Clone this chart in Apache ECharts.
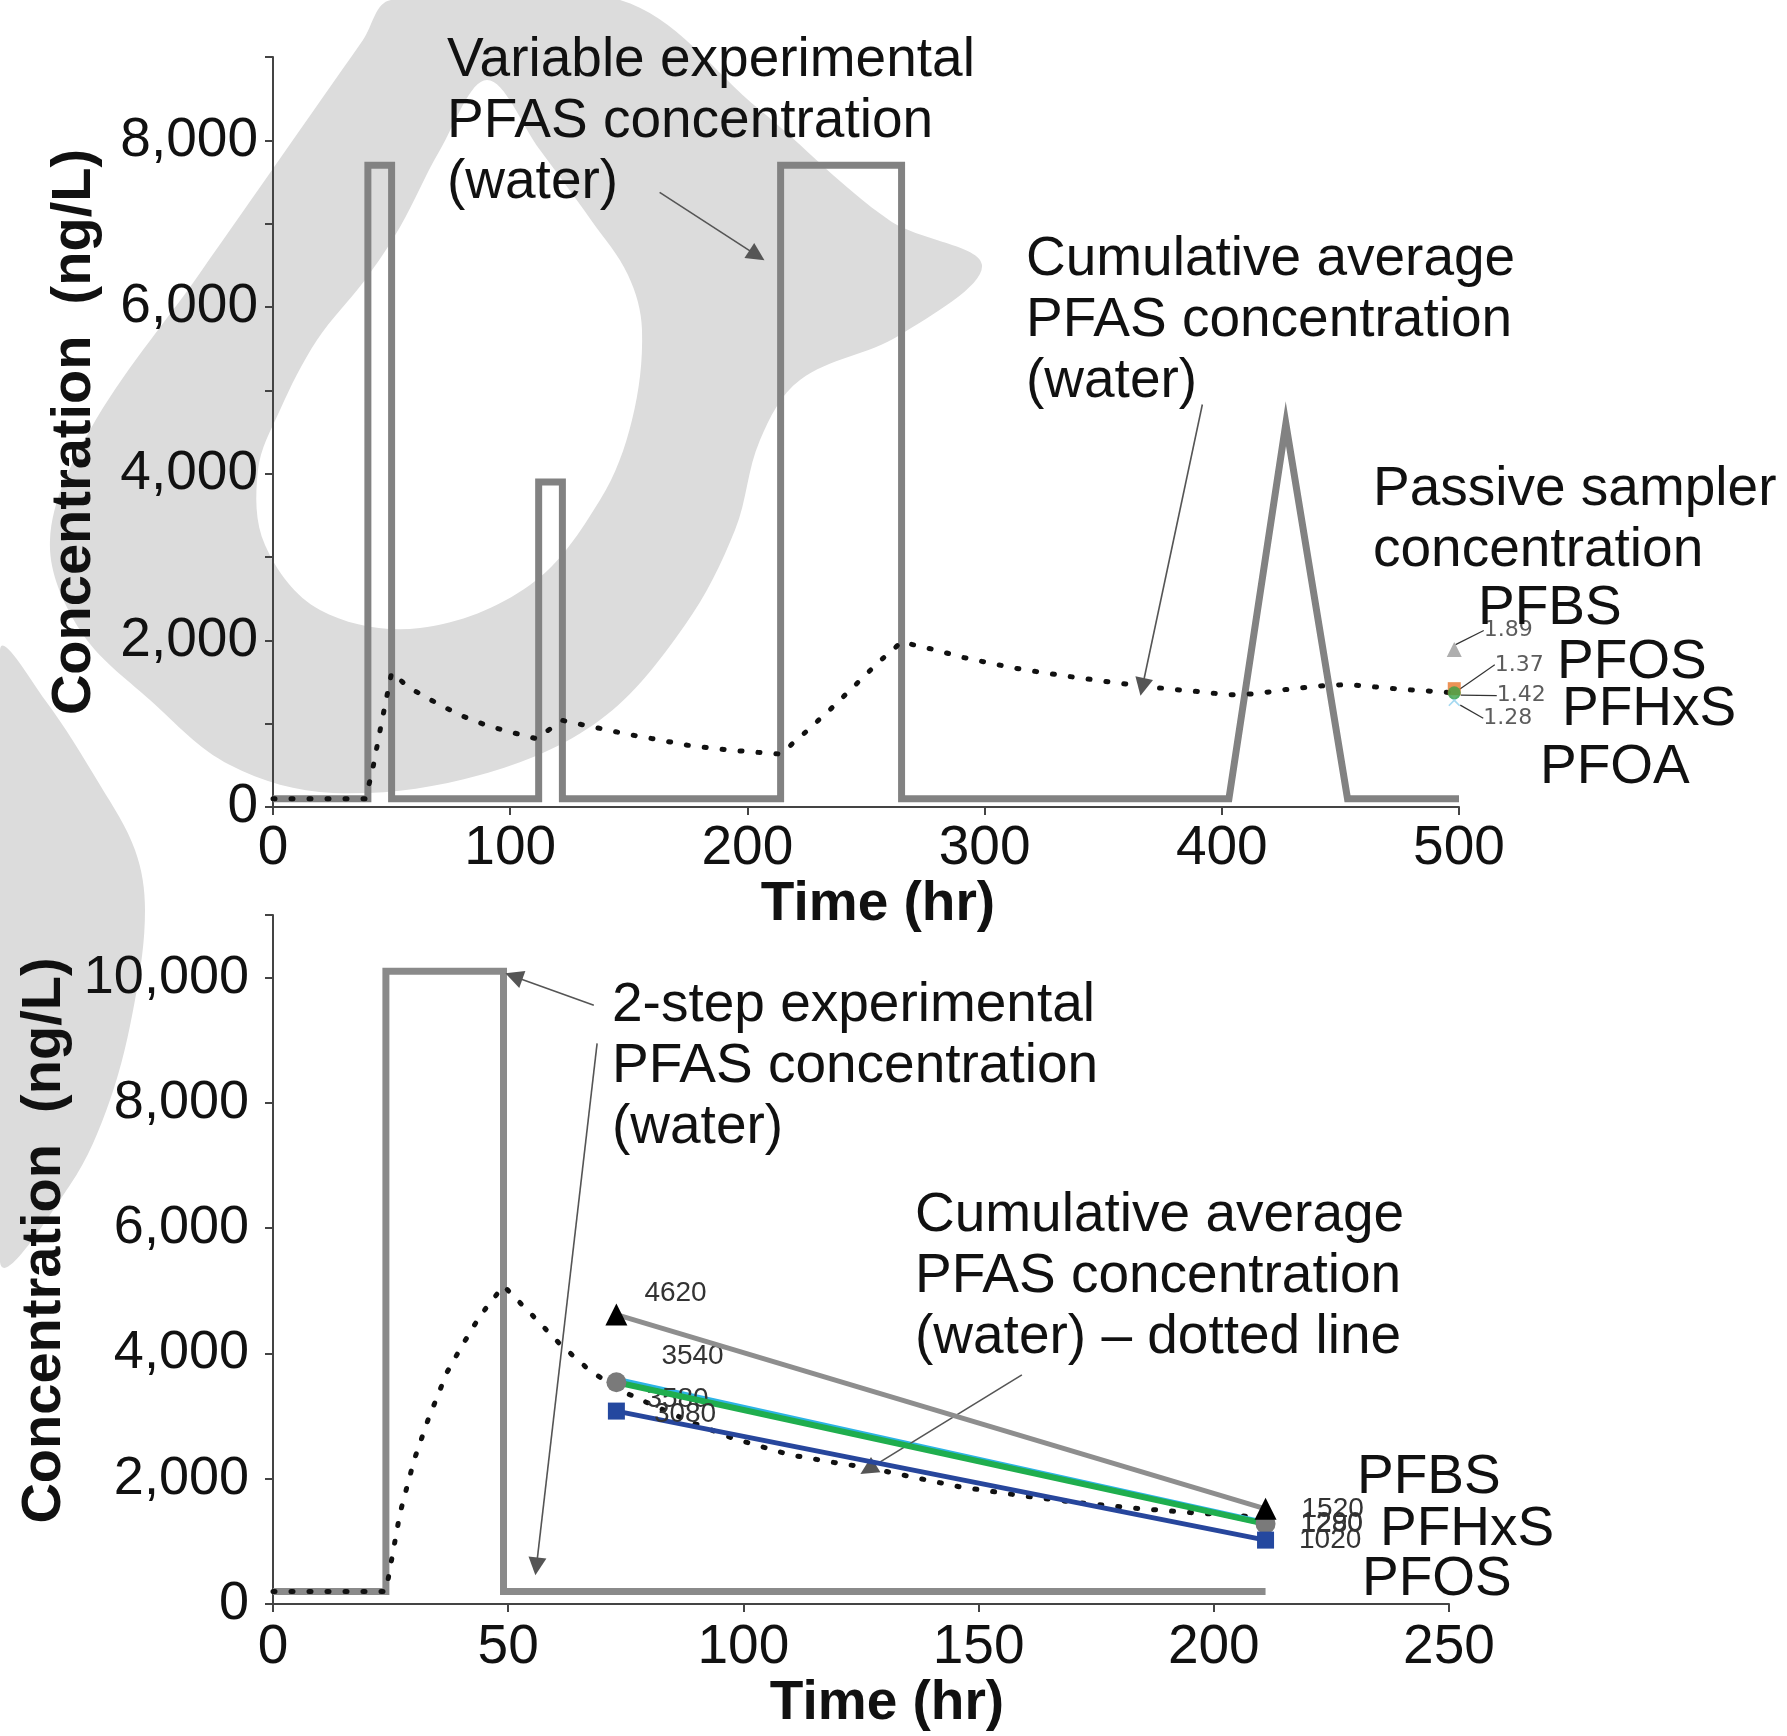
<!DOCTYPE html>
<html><head><meta charset="utf-8">
<script src="https://cdn.jsdelivr.net/npm/echarts@6/dist/echarts.min.js"></script>
<style>html,body{margin:0;padding:0;background:#fff}#c{width:1787px;height:1736px}</style>
</head><body><div id="c"></div>
<script>
// ---------- DATA (top panel) ----------
const topStepTime = [0,40,40,50,50,112,112,122,122,214,214,265,265,403,427,453,500];
const topStepConc = [100,100,7700,7700,100,100,3900,3900,100,100,7700,7700,100,100,4600,100,100];
const topAvgTime = [0,10,20,30,39,42,45,48,50,55,60,70,80,90,100,111,114,118,122,130,140,150,160,175,190,200,214,225,236,245,255,265,280,290,300,312,325,336,350,367,380,392,403,415,427,440,453,465,477,488,498];
const topAvgConc = [100,100,100,100,100,450,900,1330,1610,1490,1390,1230,1090,980,900,820,880,960,1040,990,930,870,820,740,690,665,635,910,1200,1450,1730,1980,1880,1800,1740,1670,1610,1565,1510,1450,1410,1380,1345,1360,1410,1450,1470,1440,1410,1390,1370];
const topSamplerNames = ['PFOA','PFHxS','PFOS','PFBS'];
const topSamplerTime = 498;
const topSamplerConc = [1280,1420,1370,1890];
const topSamplerLabels = ['1.28','1.42','1.37','1.89'];
const topXTicks = [0,100,200,300,400,500];
const topYTicks = [0,2000,4000,6000,8000];

// ---------- DATA (bottom panel) ----------
const botStepTime = [0,24,24,49,49,211];
const botStepConc = [200,200,10100,10100,200,200];
const botAvgTime = [0,10,20,24,27,30,33,37,40,44,49,55,61,67,73,80,90,98,110,120,127,137,146,160,171,183,195,205,211];
const botAvgConc = [200,200,200,200,1450,2300,2950,3700,4100,4600,5080,4620,4150,3750,3440,3200,2870,2640,2380,2250,2170,2010,1870,1720,1620,1530,1460,1410,1380];
const botSamplerTime = [73,211];
const pfbsConc = [4620,1520];
const pfoaConc = [3580,1290];
const pfhxsConc = [3540,1280];
const pfosConc = [3080,1020];
const botXTicks = [0,50,100,150,200,250];
const botYTicks = [0,2000,4000,6000,8000,10000];

// ---------- helpers ----------
const FONT = '"Liberation Sans", Arial, Helvetica, sans-serif';
const zip = (a,b) => a.map((x,i)=>[x,b[i]]);
const fmt = v => v.toLocaleString('en-US');

const chart = echarts.init(document.getElementById('c'), null, {renderer:'canvas'});

const axisCommon = {
  type:'value',
  axisLine:{show:true, lineStyle:{color:'#444', width:2}},
  axisTick:{show:true, length:8, lineStyle:{color:'#444', width:2}},
  splitLine:{show:false}
};

const dotted = {color:'#111', width:5, type:[2,16], cap:'round'};

function arrowMark(pairs){
  return {
    silent:true, animation:false,
    symbol:['none','triangle'], symbolSize:18,
    label:{show:false},
    lineStyle:{color:'#555', width:1.6, type:'solid'},
    itemStyle:{color:'#555'},
    emphasis:{disabled:true},
    data: pairs.map(p=>[{coord:p[0]},{coord:p[1]}])
  };
}

// top passive-sampler marker styling
const topSym = ['path://M1,0 L5,4 L9,0 L10,1 L6,5 L10,9 L9,10 L5,6 L1,10 L0,9 L4,5 L0,1 Z','rect','circle','triangle'];
const topSymColor = ['#8fd0ee','#e7772c','#3ba043','#9a9a9a'];
const topSymSize = [12,13,13,15];
const topLabelShift = [[15,18],[28,7],[26,-28],[14,-19]];

const botLabelStyle = {show:true, color:'#333', fontSize:28, fontFamily:FONT, position:'right'};
function botLine(name, conc, color, width, symbol, symColor, symSize, offsets, z){
  return {
    name, type:'line', xAxisIndex:1, yAxisIndex:1, z,
    data: conc.map((v,i)=>({value:[botSamplerTime[i], v], label:Object.assign({}, botLabelStyle, {offset:offsets[i]})})),
    lineStyle:{color, width},
    symbol, symbolSize:symSize, showSymbol:true,
    itemStyle:{color:symColor},
    label:Object.assign({}, botLabelStyle, {formatter:p=>String(p.value[1])}),
    emphasis:{disabled:true}
  };
}

function txt(x, y, text){
  return {type:'text', x, y, z:50, silent:true,
    style:{text, fontSize:55, fontFamily:FONT, fill:'#111', lineHeight:61, verticalAlign:'top', align:'left'}};
}
function shape(points, fill){
  return {type:'polygon', z:-100, silent:true, shape:{points, smooth:0.35}, style:{fill}};
}
const WM = '#dcdcdc';

const option = {
  backgroundColor:'#fff',
  animation:false,
  grid:[
    {left:273, top:57, width:1186, height:750, outerBoundsMode:'none', containLabel:false},
    {left:273, top:915, width:1176, height:689, outerBoundsMode:'none', containLabel:false}
  ],
  xAxis:[
    Object.assign({}, axisCommon, {gridIndex:0, min:topXTicks[0], max:topXTicks[topXTicks.length-1], interval:100,
      axisLabel:{fontSize:55, color:'#111', fontFamily:FONT, margin:14},
      name:'Time (hr)', nameLocation:'middle', nameGap:68,
      nameTextStyle:{fontSize:55, fontWeight:'bold', color:'#111', fontFamily:FONT, padding:[0,0,0,24]}}),
    Object.assign({}, axisCommon, {gridIndex:1, min:botXTicks[0], max:botXTicks[botXTicks.length-1], interval:50,
      axisLabel:{fontSize:55, color:'#111', fontFamily:FONT, margin:16},
      name:'Time (hr)', nameLocation:'middle', nameGap:72,
      nameTextStyle:{fontSize:55, fontWeight:'bold', color:'#111', fontFamily:FONT, padding:[0,0,0,52]}})
  ],
  yAxis:[
    Object.assign({}, axisCommon, {gridIndex:0, min:0, max:9000, interval:1000,
      axisLabel:{fontSize:55, color:'#111', fontFamily:FONT, margin:15,
        formatter:v=> topYTicks.indexOf(v)>=0 ? fmt(v) : ''},
      name:'Concentration  (ng/L)', nameLocation:'middle', nameGap:170,
      nameTextStyle:{fontSize:56, fontWeight:'bold', color:'#111', fontFamily:FONT}}),
    Object.assign({}, axisCommon, {gridIndex:1, min:0, max:11000, interval:2000,
      axisLabel:{fontSize:54, color:'#111', fontFamily:FONT, margin:24,
        formatter:v=> botYTicks.indexOf(v)>=0 ? fmt(v) : ''},
      name:'Concentration  (ng/L)', nameLocation:'middle', nameGap:184,
      nameTextStyle:{fontSize:56, fontWeight:'bold', color:'#111', fontFamily:FONT, padding:[0,0,0,38]}})
  ],
  series:[
    {name:'Variable experimental PFAS concentration (water)', type:'line', xAxisIndex:0, yAxisIndex:0, z:2,
      data:zip(topStepTime, topStepConc), showSymbol:false, symbol:'none',
      lineStyle:{color:'#828282', width:7, join:'miter'}, emphasis:{disabled:true},
      markLine: arrowMark([[[163,7375],[204,6620]]])},
    {name:'Cumulative average PFAS concentration (water)', type:'line', xAxisIndex:0, yAxisIndex:0, z:3,
      data:zip(topAvgTime, topAvgConc), showSymbol:false, symbol:'none',
      lineStyle:dotted, emphasis:{disabled:true},
      markLine: arrowMark([[[391.8,4830],[366.5,1440]]])},
    {name:'Passive sampler concentration', type:'scatter', xAxisIndex:0, yAxisIndex:0, z:5,
      data: topSamplerConc.map((v,i)=>({name:topSamplerNames[i], value:[topSamplerTime, v],
        symbol:topSym[i], symbolSize:topSymSize[i], itemStyle:{color:topSymColor[i]},
        label:{formatter:topSamplerLabels[i]}})),
      label:{show:true, position:'right', distance:8, fontSize:22, fontFamily:'"DejaVu Sans", sans-serif', color:'#333'},
      labelLine:{show:true, lineStyle:{color:'#333', width:1.2}},
      labelLayout: p => ({dx: topLabelShift[p.dataIndex][0], dy: topLabelShift[p.dataIndex][1]}),
      emphasis:{disabled:true}},

    {name:'2-step experimental PFAS concentration (water)', type:'line', xAxisIndex:1, yAxisIndex:1, z:2,
      data:zip(botStepTime, botStepConc), showSymbol:false, symbol:'none',
      lineStyle:{color:'#8a8a8a', width:7, join:'miter'}, emphasis:{disabled:true},
      markLine: arrowMark([[[68.2,9560],[51.2,10020]],[[68.9,8950],[56,600]]])},
    {name:'Cumulative average PFAS concentration (water) - dotted line', type:'line', xAxisIndex:1, yAxisIndex:1, z:3,
      data:zip(botAvgTime, botAvgConc), showSymbol:false, symbol:'none',
      lineStyle:dotted, emphasis:{disabled:true},
      markLine: arrowMark([[[159.2,3658],[126.5,2150]]])},
    botLine('PFBS', pfbsConc, '#8e8e8e', 5, 'triangle', '#000', 22, [[12,-21],[20,0]], 6),
    botLine('PFOA', pfoaConc, '#2db3e6', 6, 'circle', '#2db3e6', 2, [[24,20],[29,0]], 4),
    botLine('PFHxS', pfhxsConc, '#1fae4e', 6, 'circle', '#7a7a7a', 20, [[30,-26],[20,0]], 5),
    botLine('PFOS', pfosConc, '#27469c', 5, 'rect', '#24489f', 17, [[24,3],[20,0]], 6)
  ],
  graphic:[
    // background watermark (light grey droplet shapes)
    shape([[391,0],[620,0],[760,110],[889,220],[982,265],[900,335],[800,380],[760,440],[735,530],[685,625],[600,720],[480,775],[333,793],[230,765],[150,700],[80,630],[50,540],[90,430],[200,273],[363,40]], WM),
    shape([[487,80],[540,150],[591,220],[628,275],[642,330],[632,420],[600,500],[530,585],[420,628],[320,610],[265,545],[258,470],[280,410],[317,340],[365,280],[400,227],[440,150]], '#ffffff'),
    shape([[0,650],[45,700],[100,785],[135,850],[145,910],[135,1000],[110,1100],[70,1185],[0,1262]], WM),

    txt(447, 30, 'Variable experimental\nPFAS concentration\n(water)'),
    txt(1026, 229, 'Cumulative average\nPFAS concentration\n(water)'),
    txt(1373, 459, 'Passive sampler\nconcentration'),
    txt(1478, 578, 'PFBS'),
    txt(1557, 632, 'PFOS'),
    txt(1562, 679, 'PFHxS'),
    txt(1540, 737, 'PFOA'),
    txt(612, 975, '2-step experimental\nPFAS concentration\n(water)'),
    txt(915, 1185, 'Cumulative average\nPFAS concentration\n(water) \u2013 dotted line'),
    txt(1357, 1447, 'PFBS'),
    txt(1380, 1499, 'PFHxS'),
    txt(1362, 1549, 'PFOS')
  ]
};
chart.setOption(option);
</script></body></html>
